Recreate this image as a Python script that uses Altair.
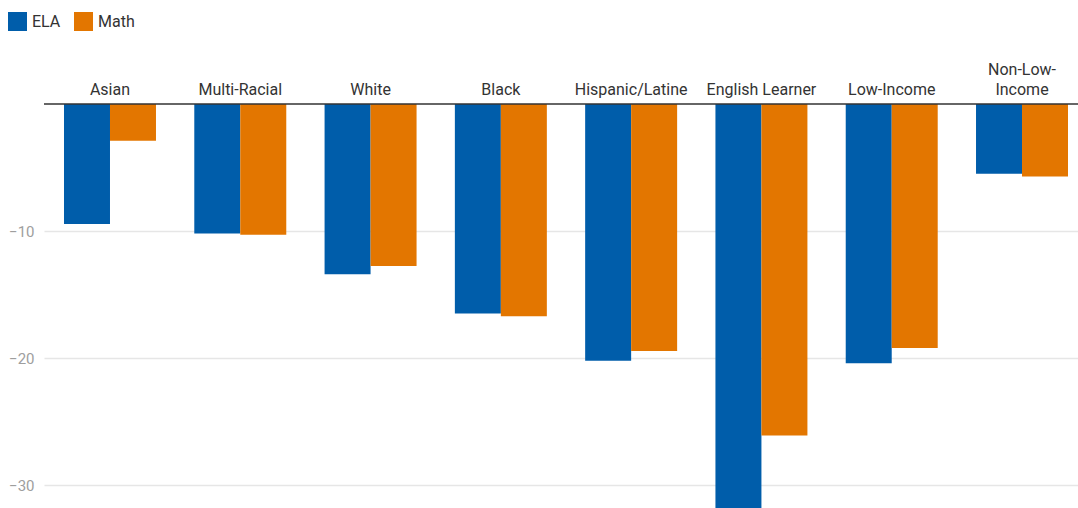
import altair as alt
import pandas as pd

categories = ["Asian", "Multi-Racial", "White", "Black", "Hispanic/Latine",
              "English Learner", "Low-Income", "Non-Low-\nIncome"]
series = ["ELA", "Math"]
ela = [-9.45, -10.2, -13.4, -16.5, -20.2, -33.5, -20.4, -5.5]
math = [-2.9, -10.3, -12.75, -16.7, -19.45, -26.1, -19.2, -5.7]
colors = ["#005DAA", "#E37600"]
y_ticks = [-10, -20, -30]

rows = []
for c, e, m in zip(categories, ela, math):
    rows.append({"group": c, "series": "ELA", "value": e})
    rows.append({"group": c, "series": "Math", "value": m})
df = pd.DataFrame(rows)
label_df = pd.DataFrame({"group": categories})

FONT = "Roboto"

xscale = alt.Scale(domain=categories, range=[0, 1044], paddingInner=0.294, paddingOuter=0.1535)

bars = alt.Chart(df).mark_bar(clip=True).encode(
    x=alt.X("group:N", scale=xscale, sort=categories, axis=None),
    xOffset=alt.XOffset("series:N", sort=series),
    y=alt.Y("value:Q", scale=alt.Scale(domain=[-31.8, 0], nice=False, zero=True),
            axis=alt.Axis(title=None, values=y_ticks, domain=False, ticks=False,
                          labelFont=FONT, labelFontSize=15, labelColor="#9e9e9e",
                          labelPadding=10, gridColor="#e6e6e6", gridWidth=1.5)),
    color=alt.Color("series:N", sort=series,
                    scale=alt.Scale(domain=series, range=colors),
                    legend=alt.Legend(orient="none", legendX=-36, legendY=-92,
                                      direction="horizontal", title=None,
                                      symbolType="square", symbolSize=361,
                                      symbolStrokeWidth=0, labelFont=FONT,
                                      labelFontSize=16, labelColor="#333333",
                                      labelOffset=5, columnPadding=13)),
)

labels_base = alt.Chart(label_df).transform_calculate(
    parts="split(datum.group, '\\n')"
).transform_calculate(
    last="datum.parts[length(datum.parts) - 1]",
    first="length(datum.parts) > 1 ? datum.parts[0] : ''",
)

label_last = labels_base.mark_text(
    font=FONT, fontSize=16, color="#333333", baseline="alphabetic", align="center"
).encode(
    x=alt.X("group:N", scale=xscale, sort=categories, axis=None),
    y=alt.value(-9.5),
    text="last:N",
)
label_first = labels_base.mark_text(
    font=FONT, fontSize=16, color="#333333", baseline="alphabetic", align="center"
).encode(
    x=alt.X("group:N", scale=xscale, sort=categories, axis=None),
    y=alt.value(-29.5),
    text="first:N",
)

zero_df = pd.DataFrame({"v": [0]})
zero = alt.Chart(zero_df).mark_rule(color="#333333", strokeWidth=1.5).encode(
    y="v:Q", x=alt.value(0), x2=alt.value(1034)
)

chart = alt.layer(bars, zero, label_last, label_first).properties(
    width=1034, height=404,
    autosize=alt.AutoSizeParams(type="none"),
    padding={"left": 44, "top": 104, "right": 0, "bottom": 0},
).configure_view(stroke=None)

chart.save("out.html", embed_options={"renderer": "svg", "actions": False})
